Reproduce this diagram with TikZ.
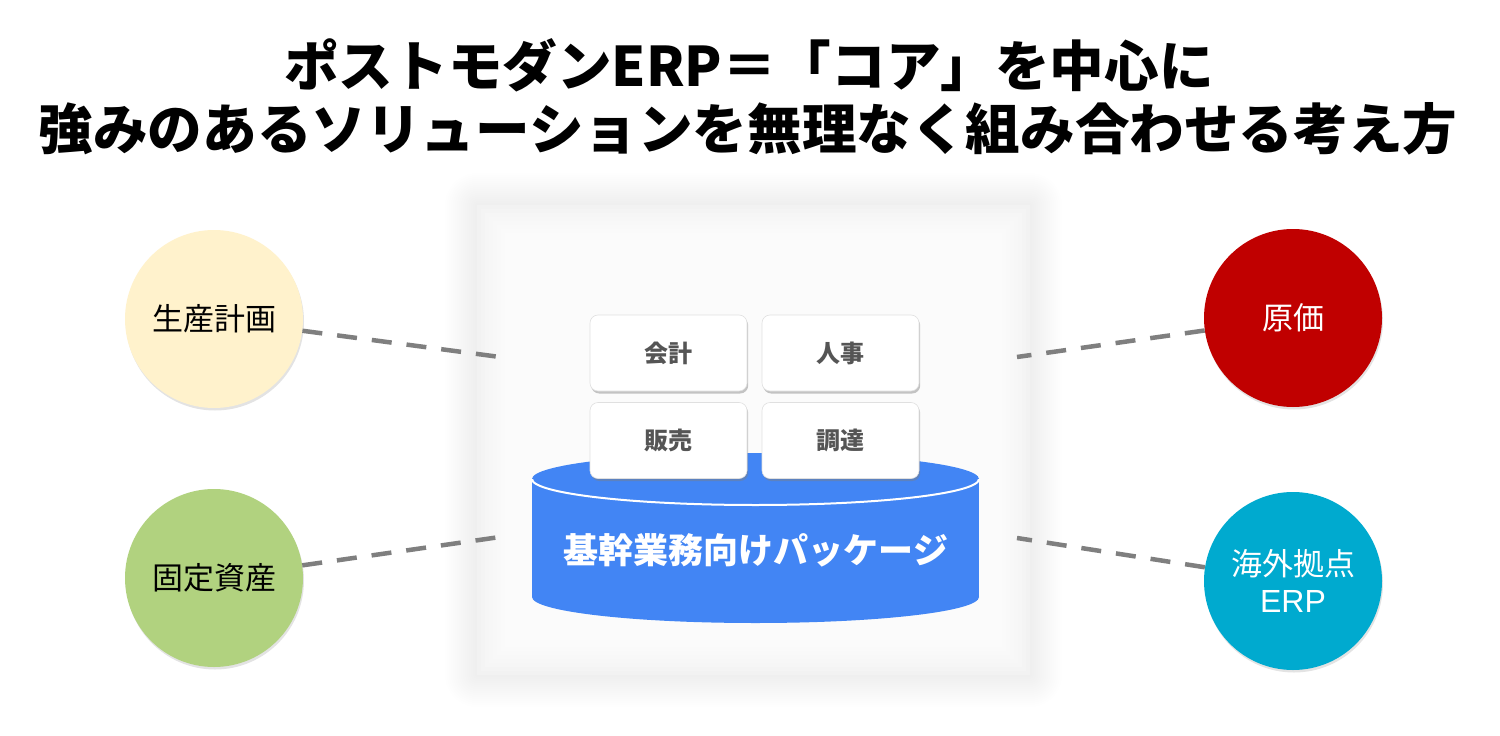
\documentclass[tikz,border=0pt]{standalone}
\usepackage{fontspec}
\newfontfamily\jp{Noto Sans CJK JP}
\newfontfamily\lat{Liberation Sans}
\usetikzlibrary{shadows}
\definecolor{pkgblue}{HTML}{4285F4}
\definecolor{cream}{HTML}{FFF2CC}
\definecolor{leaf}{HTML}{B1D27F}
\definecolor{crimson}{HTML}{C00000}
\definecolor{tealc}{HTML}{00AACF}
\definecolor{dashgray}{HTML}{7F7F7F}
\definecolor{tiletext}{HTML}{555555}
\begin{document}
\begin{tikzpicture}[x=1pt,y=-1pt,
  titlefont/.style={font=\jp\bfseries\fontsize{54.6}{64}\selectfont},
  bubble/.style={circle, minimum size=178pt, inner sep=0pt, align=center,
    font=\jp\fontsize{31}{37}\selectfont,
    drop shadow={shadow xshift=1pt, shadow yshift=-2.5pt, opacity=0.22}},
  tile/.style={rounded corners=8pt, fill=white, draw=black!12, line width=0.6pt,
    minimum width=157pt, minimum height=76pt, inner sep=0pt,
    font=\jp\bfseries\fontsize{24}{24}\selectfont, text=tiletext,
    drop shadow={shadow xshift=1.2pt, shadow yshift=-2.5pt, opacity=0.45}},
  dashline/.style={draw=dashgray, line width=4.5pt, dash pattern=on 20pt off 15pt},
  pkgtext/.style={font=\jp\bfseries\fontsize{35}{35}\selectfont, text=white, inner sep=0pt}
]
\useasboundingbox (0,0) rectangle (1500,736);
\fill[white] (0,0) rectangle (1500,736);

% title
\node[titlefont, anchor=base, inner sep=0pt] (t1) at (749,86) {ポストモダンERP＝「コア」を中心に};
\node[titlefont, anchor=base, inner sep=0pt] (t2) at (748,149) {強みのあるソリューションを無理なく組み合わせる考え方};

% panel with soft halo
\foreach \d in {32,30,...,2} {
  \fill[black, opacity=0.0035, rounded corners=\d pt] (477-\d,205-\d) rectangle (1030+\d,675+\d);
}
\foreach \d in {0,4,...,44} {
  \fill[white, opacity=0.2] (477+\d,205+\d) rectangle (1030-\d,675-\d);
}

% free ends of connectors
\coordinate (eL1) at (500,357);
\coordinate (eL2) at (500,537);
\coordinate (eR1) at (1017,357);
\coordinate (eR2) at (1017,538);

% cylinder
\fill[pkgblue] (532,479) rectangle (979,597);
\fill[pkgblue] (755.5,479) ellipse [x radius=223.5, y radius=26];
\fill[pkgblue] (755.5,597) ellipse [x radius=223.5, y radius=26];
\begin{scope}
  \clip (530,479) rectangle (981,512);
  \draw[white, line width=2pt] (755.5,479) ellipse [x radius=223.5, y radius=26];
\end{scope}
\node[pkgtext] (pkg) at (756,550) {基幹業務向けパッケージ};

% tiles
\node[tile] (acc) at (668.5,353) {会計};
\node[tile] (hr)  at (840.5,353) {人事};
\node[tile] (sal) at (668.5,440.5) {販売};
\node[tile] (pro) at (840.5,440.5) {調達};

% bubbles
\node[bubble, fill=cream] (sp) at (214,319) {生産計画};
\node[bubble, fill=leaf] (fa) at (214,578) {固定資産};
\node[bubble, fill=crimson, text=white] (cost) at (1293,318) {原価};
\node[bubble, fill=tealc, text=white] (ovs) at (1293,581) {海外拠点\\{\lat\fontsize{32}{37}\selectfont ERP}};

% connectors
\draw[dashline] (sp) -- (eL1);
\draw[dashline] (fa) -- (eL2);
\draw[dashline] (cost) -- (eR1);
\draw[dashline] (ovs) -- (eR2);
\end{tikzpicture}
\end{document}
